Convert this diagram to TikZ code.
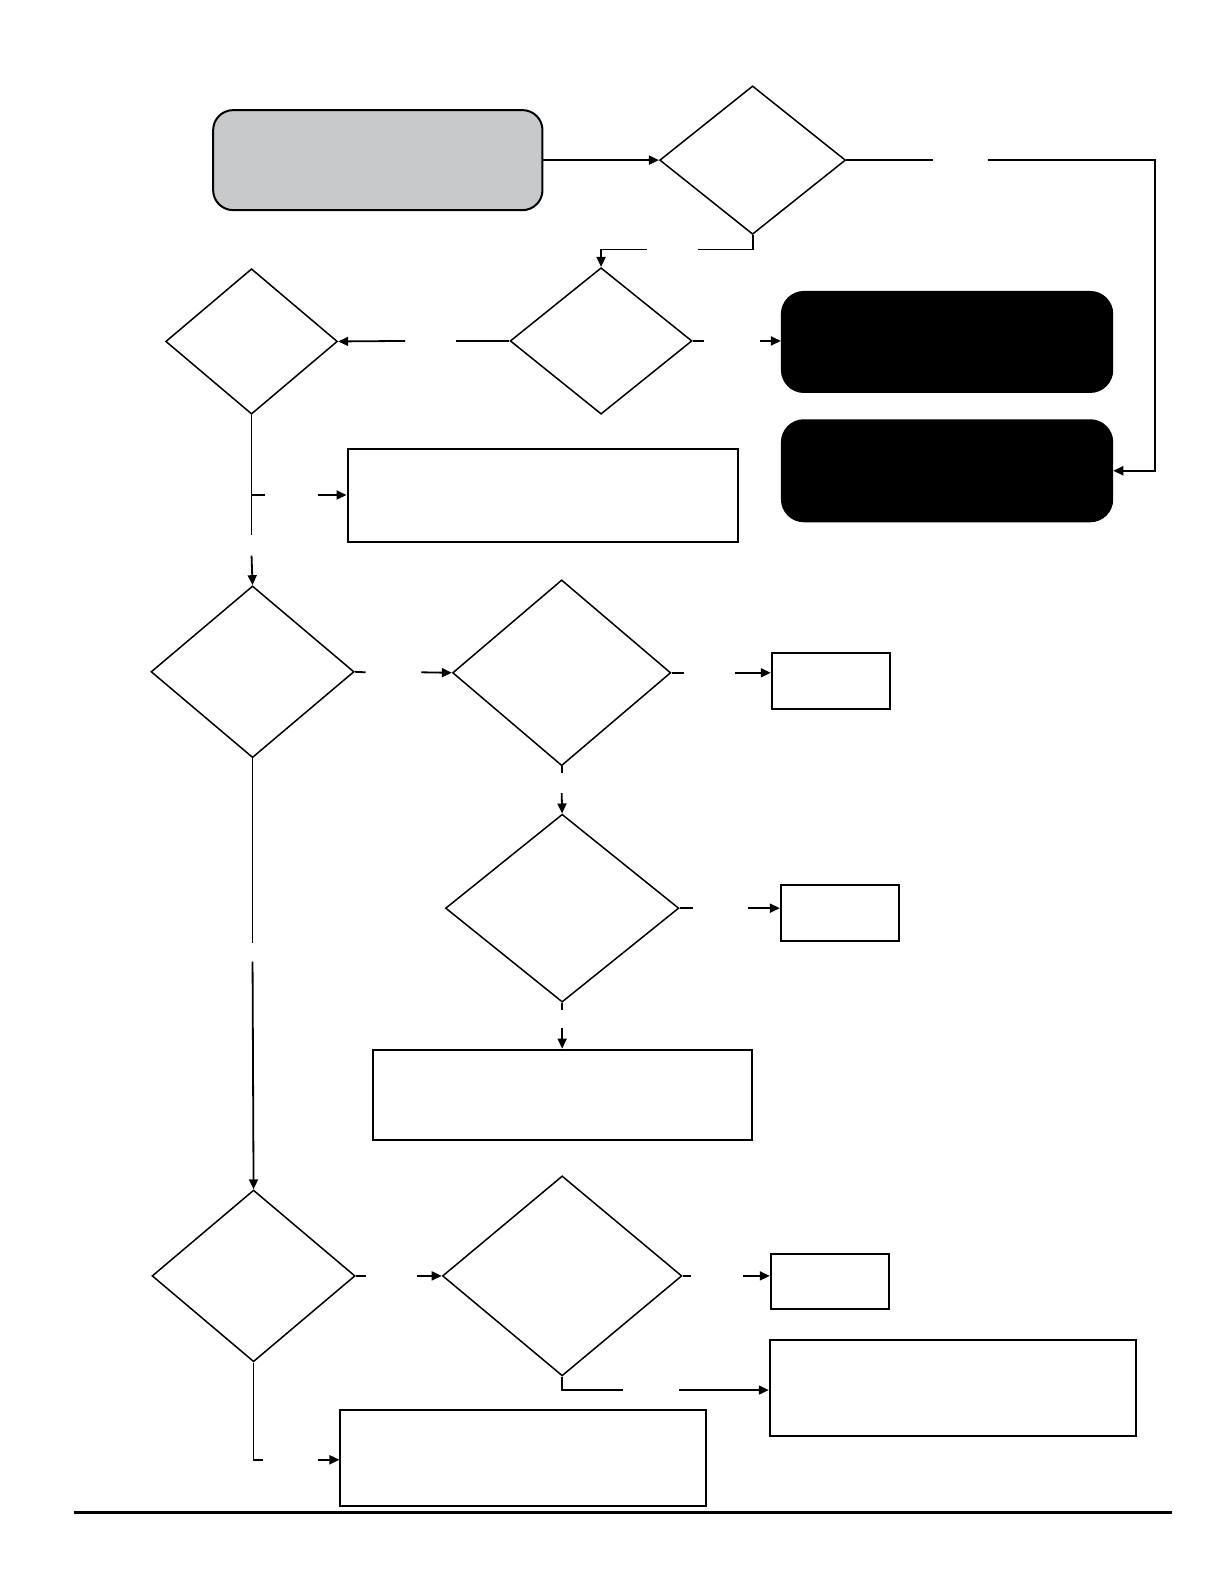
\documentclass[tikz,border=0pt]{standalone}
\usetikzlibrary{shapes.geometric, arrows.meta}
\newcommand{\upx}{0.505pt}
\definecolor{startgray}{HTML}{C8C9CB}
\begin{document}
\begin{tikzpicture}[x=\upx, y=-\upx]
        \tikzstyle{startstop} = [rectangle, rounded corners=10pt, draw=black, line width=1pt, fill=startgray, inner sep=0pt]
        \tikzstyle{endbox} = [rectangle, rounded corners=11pt, draw=black, line width=1pt, fill=black, inner sep=0pt]
        \tikzstyle{process} = [rectangle, draw=black, line width=1pt, inner sep=0pt]
        \tikzstyle{decision} = [diamond, draw=black, line width=0.75pt, inner sep=0pt, aspect=1]
        \tikzstyle{line} = [line width=0.9pt]
        \tikzstyle{arrow} = [line width=0.9pt, -{Triangle[length=5pt, width=4.5pt]}]

        \useasboundingbox (0,0) rectangle (1212,1568);

        % boxes
        \node (start) [startstop, minimum width=326*\upx, minimum height=99*\upx] at (374,158.5) {};
        \node (endA) [endbox, minimum width=327*\upx, minimum height=99*\upx] at (937.5,338.5) {};
        \node (endB) [endbox, minimum width=327*\upx, minimum height=100*\upx] at (937.5,466) {};
        \node (boxA) [process, minimum width=387*\upx, minimum height=93*\upx] at (537.5,490.5) {};
        \node (resA) [process, minimum width=117*\upx, minimum height=56*\upx] at (822.5,674) {};
        \node (resB) [process, minimum width=117*\upx, minimum height=55*\upx] at (831.5,903.5) {};
        \node (boxB) [process, minimum width=375*\upx, minimum height=89*\upx] at (556.5,1083.5) {};
        \node (resC) [process, minimum width=117*\upx, minimum height=55*\upx] at (821.5,1268.5) {};
        \node (boxC) [process, minimum width=363*\upx, minimum height=95*\upx] at (943.5,1373.5) {};
        \node (boxD) [process, minimum width=362*\upx, minimum height=95*\upx] at (518,1443.5) {};

        % decisions
        \node (q1) [decision, minimum width=184*\upx, minimum height=147*\upx] at (745,158.5) {};
        \node (q2) [decision, minimum width=180*\upx, minimum height=145*\upx] at (595,337.5) {};
        \node (q3) [decision, minimum width=170*\upx, minimum height=144*\upx] at (249,338) {};
        \node (q4) [decision, minimum width=201*\upx, minimum height=170*\upx] at (250,665) {};
        \node (q5) [decision, minimum width=216*\upx, minimum height=184*\upx] at (556,666) {};
        \node (q6) [decision, minimum width=231*\upx, minimum height=186*\upx] at (556.5,899) {};
        \node (q7) [decision, minimum width=201*\upx, minimum height=170*\upx] at (251,1263) {};
        \node (q8) [decision, minimum width=237*\upx, minimum height=198*\upx] at (556.5,1263) {};

        % gap ends (label places)
        \coordinate (g1a) at (924,158.5);   \coordinate (g1b) at (978,158.5);
        \coordinate (corner) at (1143,158.5);
        \coordinate (g2a) at (691,247);     \coordinate (g2b) at (640,247);
        \coordinate (g3a) at (697,337.5);   \coordinate (g3b) at (752,337.5);
        \coordinate (g4a) at (451,337.5);   \coordinate (g4b) at (401,337.5);
        \coordinate (g5a) at (249,530);     \coordinate (g5b) at (249,550);
        \coordinate (fork) at (249,490);
        \coordinate (g6a) at (262,490);     \coordinate (g6b) at (315,490);
        \coordinate (g7a) at (362,665.5);   \coordinate (g7b) at (417,665.5);
        \coordinate (g8a) at (677,666);     \coordinate (g8b) at (728,666);
        \coordinate (g9a) at (556,765);     \coordinate (g9b) at (556,785);
        \coordinate (g10a) at (686,899);    \coordinate (g10b) at (740,899);
        \coordinate (g11a) at (556.5,1000); \coordinate (g11b) at (556.5,1018);
        \coordinate (g12a) at (250,933);    \coordinate (g12b) at (250,952);
        \coordinate (g13a) at (362,1263);   \coordinate (g13b) at (413,1263);
        \coordinate (g14a) at (684,1263);   \coordinate (g14b) at (735,1263);
        \coordinate (g15a) at (617,1376);   \coordinate (g15b) at (672,1376);
        \coordinate (g16a) at (260,1445);   \coordinate (g16b) at (315,1445);

        % connectors
        \draw [arrow] (start) -- (q1);
        \draw [line] (q1.east) -- (g1a);
        \draw [arrow] (g1b) -- (corner) |- (endB.east);
        \draw [line] (q1.south) |- (g2a);
        \draw [arrow] (g2b) -| (q2.north);
        \draw [line] (q2.east) -- (g3a);
        \draw [arrow] (g3b) -- (g3b -| endA.west);
        \draw [line] (q2.west) -- (g4a);
        \draw [arrow] (g4b) -- (q3.east);
        \draw [line] (q3.south) -- (g5a);
        \draw [arrow] (g5b) -- (q4.north);
        \draw [line] (fork) -- (g6a);
        \draw [arrow] (g6b) -- (g6b -| boxA.west);
        \draw [line] (q4.east) -- (g7a);
        \draw [arrow] (g7b) -- (q5.west);
        \draw [line] (q5.east) -- (g8a);
        \draw [arrow] (g8b) -- (g8b -| resA.west);
        \draw [line] (q5.south) -- (g9a);
        \draw [arrow] (g9b) -- (q6.north);
        \draw [line] (q6.east) -- (g10a);
        \draw [arrow] (g10b) -- (g10b -| resB.west);
        \draw [line] (q6.south) -- (g11a);
        \draw [arrow] (g11b) -- (boxB.north);
        \draw [line] (q4.south) -- (g12a);
        \draw [arrow] (g12b) -- (q7.north);
        \draw [line] (q7.east) -- (g13a);
        \draw [arrow] (g13b) -- (q8.west);
        \draw [line] (q8.east) -- (g14a);
        \draw [arrow] (g14b) -- (g14b -| resC.west);
        \draw [line] (q8.south) |- (g15a);
        \draw [arrow] (g15b) -- (g15b -| boxC.west);
        \draw [line] (q7.south) |- (g16a);
        \draw [arrow] (g16b) -- (g16b -| boxD.west);

        % bottom rule
        \draw [line width=1.5pt] (73,1497) -- (1160,1497);
\end{tikzpicture}
\end{document}
